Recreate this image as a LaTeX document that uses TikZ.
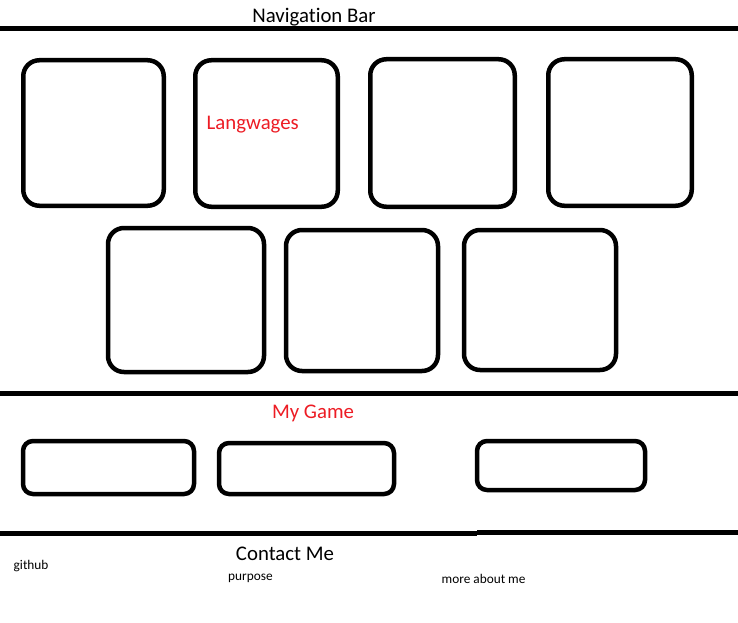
\documentclass[tikz,border=0pt]{standalone}
\usepackage{fontspec}
\setmainfont{Carlito}[Ligatures=NoCommon]
\definecolor{paintred}{RGB}{237,28,36}
\tikzset{
  bigbox/.style={draw=black, line width=4.5pt, rounded corners=16pt, inner sep=0pt},
  gamebox/.style={draw=black, line width=4.5pt, rounded corners=10pt, inner sep=0pt},
  rule/.style={draw=black, line width=4.5pt},
  bigtext/.style={font=\fontsize{20.8}{24}\selectfont, inner sep=0pt, anchor=base},
  smalltext/.style={font=\fontsize{13.3}{16}\selectfont, inner sep=0pt, anchor=base west}
}
\begin{document}
\begin{tikzpicture}[x=1pt,y=-1pt]
\useasboundingbox[fill=white] (0,0) rectangle (738,623);
% rules
\coordinate (r1a) at (0,28.3);
\coordinate (r1b) at (738,28.3);
\coordinate (r2a) at (0,393.5);
\coordinate (r2b) at (738,393.5);
\coordinate (r3a) at (0,533.3);
\coordinate (r3m) at (477,533.3);
\coordinate (r3n) at (477,532.3);
\coordinate (r3b) at (738,532.3);
\draw[rule] (r1a) -- (r1b);
\draw[rule] (r2a) -- (r2b);
\draw[rule] (r3a) -- (r3m);
\draw[rule] (r3n) -- (r3b);
% titles
\node[bigtext] (nav) at (314,23) {Navigation Bar};
\node[bigtext, text=paintred] (game) at (313,418) {My Game};
\node[bigtext] (contact) at (285,560) {Contact Me};
% row 1
\node[bigbox, minimum width=140.5pt, minimum height=145.5pt] (b1) at (93.5,133) {};
\node[bigbox, minimum width=142.5pt, minimum height=146.5pt] (b2) at (266.5,133.5) {};
\node[bigbox, minimum width=144.5pt, minimum height=147.5pt] (b3) at (442.5,133) {};
\node[bigbox, minimum width=143.5pt, minimum height=146.5pt] (b4) at (620,132.5) {};
\node[bigtext, anchor=base west, text=paintred] (lang) at (206.5,129) {Langwages};
% row 2
\node[bigbox, minimum width=156pt, minimum height=144pt] (b5) at (186,300) {};
\node[bigbox, minimum width=152pt, minimum height=141pt] (b6) at (362,300.5) {};
\node[bigbox, minimum width=152pt, minimum height=140pt] (b7) at (540,300) {};
% game boxes
\node[gamebox, minimum width=171pt, minimum height=53pt] (g1) at (108.5,467.5) {};
\node[gamebox, minimum width=175pt, minimum height=51pt] (g2) at (306.5,468.5) {};
\node[gamebox, minimum width=168pt, minimum height=49pt] (g3) at (561,465.5) {};
% contact items
\node[smalltext] (gh) at (13.5,569) {github};
\node[smalltext] (pur) at (228,580) {purpose};
\node[smalltext] (more) at (441.5,583) {more about me};
\end{tikzpicture}
\end{document}
